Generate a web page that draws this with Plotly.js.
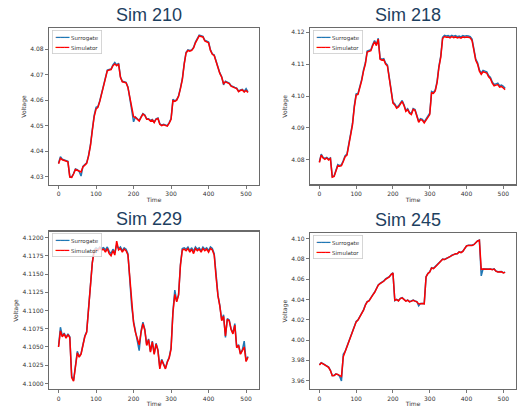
<!DOCTYPE html>
<html>
<head>
<meta charset="utf-8">
<script src="https://cdn.plot.ly/plotly-3.0.1.min.js"></script>
<style>html,body{margin:0;padding:0;background:#fff;}#chart{width:518px;height:409px;}</style>
</head>
<body>
<div id="chart"></div>
<script>
// Time steps (sampled every 5 steps)
const time = [0,5,10,15,20,25,30,35,40,45,50,55,60,65,70,75,80,85,90,95,
100,105,110,115,120,125,130,135,140,145,150,155,160,165,170,175,180,185,190,195,
200,205,210,215,220,225,230,235,240,245,250,255,260,265,270,275,280,285,290,295,
300,305,310,315,320,325,330,335,340,345,350,355,360,365,370,375,380,385,390,395,
400,405,410,415,420,425,430,435,440,445,450,455,460,465,470,475,480,485,490,495,
500,505];

const titles = ["Sim 210", "Sim 218", "Sim 229", "Sim 245"];
const seriesNames = ["Surrogate", "Simulator"];
const xTicks = [0, 100, 200, 300, 400, 500];

// Sim 210
const sim210Simulator = [4.0350,4.0372,4.0366,4.0364,4.0362,4.0358,4.0298,4.0297,4.0310,4.0328,
4.0325,4.0322,4.0318,4.0338,4.0345,4.0352,4.0380,4.0420,4.0480,4.0535,
4.0565,4.0572,4.0595,4.0625,4.0655,4.0680,4.0715,4.0718,4.0720,4.0735,
4.0742,4.0735,4.0742,4.0690,4.0672,4.0670,4.0668,4.0650,4.0610,4.0560,
4.0535,4.0532,4.0525,4.0518,4.0532,4.0545,4.0540,4.0525,4.0525,4.0518,
4.0522,4.0512,4.0525,4.0528,4.0505,4.0500,4.0503,4.0500,4.0498,4.0510,
4.0525,4.0598,4.0595,4.0600,4.0615,4.0645,4.0680,4.0740,4.0785,4.0795,
4.0792,4.0795,4.0805,4.0825,4.0840,4.0852,4.0850,4.0848,4.0832,4.0828,
4.0825,4.0795,4.0780,4.0775,4.0750,4.0730,4.0705,4.0690,4.0665,4.0672,
4.0668,4.0665,4.0655,4.0650,4.0648,4.0645,4.0633,4.0638,4.0640,4.0632,
4.0638,4.0630];
const sim210Surrogate = [4.0352,4.0378,4.0368,4.0366,4.0363,4.0360,4.0300,4.0298,4.0312,4.0330,
4.0327,4.0320,4.0302,4.0340,4.0347,4.0354,4.0383,4.0424,4.0484,4.0540,
4.0572,4.0575,4.0598,4.0628,4.0658,4.0683,4.0718,4.0720,4.0722,4.0738,
4.0748,4.0738,4.0745,4.0692,4.0674,4.0672,4.0670,4.0652,4.0612,4.0562,
4.0515,4.0534,4.0527,4.0520,4.0534,4.0547,4.0542,4.0527,4.0527,4.0520,
4.0524,4.0514,4.0527,4.0530,4.0507,4.0502,4.0505,4.0502,4.0500,4.0512,
4.0528,4.0603,4.0597,4.0602,4.0617,4.0648,4.0683,4.0743,4.0788,4.0797,
4.0795,4.0797,4.0807,4.0828,4.0843,4.0855,4.0853,4.0850,4.0835,4.0830,
4.0828,4.0797,4.0782,4.0777,4.0752,4.0732,4.0707,4.0692,4.0660,4.0674,
4.0670,4.0667,4.0657,4.0652,4.0650,4.0647,4.0635,4.0640,4.0642,4.0634,
4.0645,4.0632];

// Sim 218
const sim218Simulator = [4.0792,4.0815,4.0806,4.0802,4.0806,4.0800,4.0804,4.0746,4.0748,4.0768,
4.0782,4.0780,4.0782,4.0795,4.0810,4.0815,4.0845,4.0880,4.0910,4.0965,
4.1003,4.1005,4.1025,4.1048,4.1078,4.1100,4.1138,4.1140,4.1142,4.1158,
4.1170,4.1158,4.1178,4.1115,4.1112,4.1114,4.1100,4.1094,4.1052,4.1010,
4.0978,4.0972,4.0962,4.0966,4.0975,4.0983,4.0970,4.0952,4.0957,4.0946,
4.0942,4.0958,4.0955,4.0932,4.0918,4.0926,4.0924,4.0916,4.0924,4.0932,
4.0942,4.1010,4.1008,4.1016,4.1042,4.1090,4.1122,4.1180,4.1186,4.1184,
4.1185,4.1182,4.1186,4.1183,4.1185,4.1182,4.1184,4.1181,4.1185,4.1183,
4.1185,4.1184,4.1182,4.1174,4.1142,4.1112,4.1100,4.1078,4.1068,4.1076,
4.1074,4.1072,4.1060,4.1054,4.1040,4.1032,4.1034,4.1036,4.1028,4.1030,
4.1025,4.1020];
const sim218Surrogate = [4.0794,4.0818,4.0808,4.0805,4.0808,4.0803,4.0806,4.0748,4.0750,4.0771,
4.0785,4.0782,4.0785,4.0798,4.0813,4.0818,4.0848,4.0884,4.0914,4.0970,
4.1007,4.1008,4.1028,4.1052,4.1082,4.1104,4.1141,4.1143,4.1145,4.1161,
4.1174,4.1161,4.1181,4.1118,4.1115,4.1117,4.1103,4.1097,4.1056,4.1014,
4.0981,4.0975,4.0965,4.0969,4.0978,4.0986,4.0973,4.0955,4.0960,4.0949,
4.0945,4.0961,4.0958,4.0935,4.0921,4.0929,4.0927,4.0919,4.0927,4.0935,
4.0946,4.1014,4.1011,4.1019,4.1046,4.1094,4.1126,4.1184,4.1190,4.1188,
4.1189,4.1186,4.1190,4.1187,4.1189,4.1186,4.1188,4.1185,4.1189,4.1187,
4.1189,4.1188,4.1186,4.1178,4.1146,4.1116,4.1104,4.1082,4.1072,4.1080,
4.1078,4.1076,4.1064,4.1058,4.1044,4.1036,4.1038,4.1040,4.1032,4.1034,
4.1030,4.1024];

// Sim 229
const sim229Simulator = [4.1050,4.1072,4.1064,4.1068,4.1062,4.1067,4.1063,4.1008,4.1003,4.1020,
4.1042,4.1036,4.1040,4.1052,4.1064,4.1070,4.1102,4.1130,4.1165,4.1182,
4.1184,4.1182,4.1186,4.1183,4.1184,4.1180,4.1185,4.1178,4.1175,4.1182,
4.1176,4.1195,4.1183,4.1185,4.1180,4.1184,4.1182,4.1176,4.1145,4.1108,
4.1083,4.1070,4.1060,4.1053,4.1070,4.1082,4.1073,4.1052,4.1060,4.1043,
4.1057,4.1040,4.1054,4.1045,4.1020,4.1032,4.1026,4.1020,4.1029,4.1035,
4.1047,4.1097,4.1122,4.1112,4.1121,4.1162,4.1183,4.1184,4.1182,4.1185,
4.1180,4.1184,4.1178,4.1185,4.1182,4.1184,4.1180,4.1185,4.1182,4.1184,
4.1180,4.1185,4.1183,4.1176,4.1146,4.1120,4.1106,4.1086,4.1092,4.1065,
4.1088,4.1086,4.1074,4.1068,4.1080,4.1049,4.1052,4.1040,4.1045,4.1050,
4.1030,4.1036];
const sim229Surrogate = [4.1051,4.1077,4.1065,4.1069,4.1063,4.1068,4.1064,4.1010,4.1004,4.1021,
4.1044,4.1037,4.1041,4.1053,4.1065,4.1071,4.1104,4.1131,4.1166,4.1183,
4.1186,4.1184,4.1187,4.1185,4.1186,4.1183,4.1187,4.1181,4.1178,4.1184,
4.1179,4.1190,4.1185,4.1187,4.1182,4.1186,4.1184,4.1178,4.1140,4.1106,
4.1085,4.1071,4.1061,4.1045,4.1072,4.1084,4.1074,4.1053,4.1061,4.1044,
4.1058,4.1041,4.1055,4.1046,4.1022,4.1033,4.1027,4.1021,4.1030,4.1036,
4.1049,4.1099,4.1128,4.1113,4.1122,4.1163,4.1185,4.1186,4.1184,4.1187,
4.1182,4.1186,4.1181,4.1187,4.1184,4.1186,4.1182,4.1187,4.1184,4.1186,
4.1182,4.1187,4.1185,4.1178,4.1150,4.1121,4.1107,4.1087,4.1094,4.1063,
4.1089,4.1087,4.1075,4.1069,4.1082,4.1050,4.1053,4.1041,4.1046,4.1058,
4.1031,4.1037];

// Sim 245
const sim245Simulator = [3.9754,3.9775,3.9765,3.9755,3.9745,3.9732,3.9700,3.9649,3.9650,3.9665,
3.9662,3.9650,3.9640,3.9836,3.9885,3.9934,3.9984,4.0033,4.0098,4.0148,
4.0180,4.0197,4.0230,4.0262,4.0295,4.0344,4.0377,4.0387,4.0410,4.0443,
4.0469,4.0508,4.0541,4.0557,4.0567,4.0580,4.0600,4.0613,4.0623,4.0646,
4.0662,4.0393,4.0400,4.0387,4.0410,4.0416,4.0403,4.0384,4.0393,4.0377,
4.0384,4.0393,4.0384,4.0377,4.0357,4.0360,4.0360,4.0357,4.0623,4.0656,
4.0672,4.0711,4.0705,4.0721,4.0738,4.0754,4.0777,4.0797,4.0794,4.0803,
4.0810,4.0820,4.0836,4.0843,4.0852,4.0852,4.0869,4.0862,4.0875,4.0902,
4.0928,4.0934,4.0932,4.0934,4.0941,4.0960,4.0977,4.0984,4.0698,4.0700,
4.0698,4.0702,4.0699,4.0700,4.0695,4.0700,4.0679,4.0672,4.0675,4.0674,
4.0662,4.0668];
const sim245Surrogate = [3.9756,3.9777,3.9767,3.9757,3.9747,3.9734,3.9702,3.9651,3.9652,3.9667,
3.9660,3.9645,3.9598,3.9860,3.9888,3.9937,3.9987,4.0036,4.0101,4.0151,
4.0183,4.0200,4.0233,4.0265,4.0298,4.0347,4.0380,4.0390,4.0413,4.0446,
4.0472,4.0511,4.0544,4.0560,4.0570,4.0583,4.0603,4.0616,4.0626,4.0649,
4.0664,4.0390,4.0402,4.0389,4.0412,4.0418,4.0405,4.0386,4.0395,4.0379,
4.0386,4.0395,4.0386,4.0379,4.0338,4.0362,4.0362,4.0359,4.0625,4.0658,
4.0674,4.0713,4.0707,4.0723,4.0740,4.0756,4.0779,4.0799,4.0796,4.0805,
4.0812,4.0822,4.0838,4.0845,4.0854,4.0854,4.0871,4.0864,4.0877,4.0904,
4.0930,4.0936,4.0934,4.0936,4.0943,4.0962,4.0979,4.0986,4.0633,4.0702,
4.0700,4.0704,4.0701,4.0702,4.0697,4.0702,4.0681,4.0674,4.0677,4.0676,
4.0664,4.0670];

const surrogateSets = [sim210Surrogate, sim218Surrogate, sim229Surrogate, sim245Surrogate];
const simulatorSets = [sim210Simulator, sim218Simulator, sim229Simulator, sim245Simulator];

// ---- presentation ----
const colors = ["#1f77b4", "#ff0000"];
const xDomains = [[0.0946, 0.5], [0.5985, 0.9961], [0.0946, 0.5], [0.5985, 0.9961]];
const yDomains = [[0.5477, 0.9315], [0.5489, 0.9308], [0.0482, 0.4335], [0.0482, 0.4303]];
const yRanges = [[4.0267, 4.0883], [4.0723, 4.1212], [4.0992, 4.1208], [3.9515, 4.1056]];
const yDticks = [0.01, 0.01, 0.0025, 0.02];
const yFormats = [".2f", ".2f", ".4f", ".2f"];

const FONT = "DejaVu Sans, sans-serif";
const tickFont = {family: FONT, size: 6, color: "#333"};
const data = [];
const layout = {
  width: 518, height: 409,
  margin: {l: 0, r: 0, t: 0, b: 0},
  paper_bgcolor: "#fff", plot_bgcolor: "#fff",
  showlegend: false,
  annotations: []
};

function legendText() {
  return seriesNames.map((nm, s) =>
    '<span style="font-size:7.5px;fill:' + colors[s] + '">━━━</span>' +
    '<span style="font-size:5.5px"> ' + nm + '</span>').join('<br>');
}

for (let i = 0; i < 4; i++) {
  const n = i === 0 ? "" : String(i + 1);
  const sets = [surrogateSets[i], simulatorSets[i]];
  for (let s = 0; s < 2; s++) {
    data.push({
      type: "scatter", mode: "lines",
      x: time, y: sets[s], name: seriesNames[s],
      xaxis: "x" + n, yaxis: "y" + n,
      line: {color: colors[s], width: 1.5},
      hoverinfo: "skip"
    });
  }
  const axCommon = {
    showline: true, mirror: true, linecolor: "#6a6a6a", linewidth: 1.2,
    ticks: "outside", ticklen: 3, tickcolor: "#555", tickwidth: 0.8,
    showgrid: false, zeroline: false, tickfont: tickFont, automargin: false
  };
  layout["xaxis" + n] = Object.assign({}, axCommon, {
    domain: xDomains[i], range: [-25.45, 534.45], anchor: "y" + n,
    tickvals: xTicks,
    title: {text: "Time", font: {family: FONT, size: 6, color: "#333"}, standoff: 1}
  });
  layout["yaxis" + n] = Object.assign({}, axCommon, {
    domain: yDomains[i], range: yRanges[i], anchor: "x" + n,
    dtick: yDticks[i], tick0: 0, tickformat: yFormats[i],
    title: {text: "Voltage", font: {family: FONT, size: 6, color: "#333"}, standoff: 3}
  });
  // legend box (text)
  layout.annotations.push({
    text: legendText(), xref: "paper", yref: "paper",
    x: xDomains[i][0] + 3 / 518, y: yDomains[i][1] - 1.5 / 409,
    xanchor: "left", yanchor: "top", align: "left", showarrow: false,
    font: {family: FONT, size: 7.5, color: "#333"},
    bgcolor: "rgba(255,255,255,0.8)", bordercolor: "#cccccc", borderwidth: 0.8, borderpad: 2
  });
  layout.annotations.push({
    text: titles[i], xref: "paper", yref: "paper",
    x: (xDomains[i][0] + xDomains[i][1]) / 2 - 0.01, y: yDomains[i][1] + 0.002,
    xanchor: "center", yanchor: "bottom", showarrow: false,
    font: {family: "Liberation Sans, Arial, sans-serif", size: 18, color: "#1d4060"}
  });
}

Plotly.newPlot("chart", data, layout, {staticPlot: true, displayModeBar: false});
</script>
</body>
</html>
